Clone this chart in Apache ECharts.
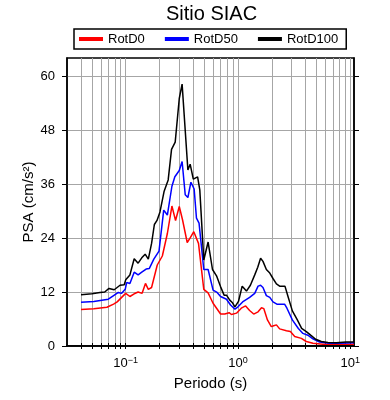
<!DOCTYPE html>
<html>
<head>
<meta charset="utf-8">
<script src="https://cdn.jsdelivr.net/npm/echarts@6/dist/echarts.min.js"></script>
<style>
  html, body { margin: 0; padding: 0; background: #fff; }
  #chart { width: 390px; height: 400px; }
</style>
</head>
<body>
<div id="chart"></div>
<script>
// periods (s) and PSA (cm/s2)
const periodsD0 = [0.04, 0.052, 0.068, 0.078, 0.084, 0.092, 0.1, 0.109, 0.119, 0.129, 0.14, 0.15, 0.159, 0.17, 0.191, 0.212, 0.235, 0.258, 0.278, 0.3, 0.321, 0.353, 0.373, 0.404, 0.445, 0.496, 0.542, 0.6, 0.7, 0.763, 0.834, 0.875, 0.97, 1.07, 1.17, 1.27, 1.38, 1.51, 1.62, 1.7, 1.83, 1.98, 2.08, 2.2, 2.35, 2.7, 2.93, 3.2, 3.67, 4.06, 4.65, 5.7, 8.0, 10.8];
const rotD0 = [8.1, 8.3, 8.6, 9.3, 9.8, 10.8, 11.7, 11.0, 11.6, 12.0, 11.7, 13.9, 12.6, 13.0, 18.0, 20.0, 25.0, 31.1, 27.9, 31.0, 28.0, 23.0, 23.9, 25.4, 22.8, 12.6, 11.8, 9.5, 7.1, 7.1, 7.4, 7.0, 7.3, 8.4, 8.9, 7.9, 7.1, 7.6, 8.5, 8.3, 5.8, 4.3, 4.5, 4.7, 3.8, 3.4, 3.2, 2.1, 1.7, 1.0, 0.6, 0.4, 0.4, 0.4];

const periodsD50 = [0.04, 0.052, 0.07, 0.078, 0.086, 0.092, 0.099, 0.102, 0.109, 0.119, 0.129, 0.139, 0.152, 0.162, 0.178, 0.198, 0.218, 0.235, 0.258, 0.274, 0.3, 0.318, 0.339, 0.358, 0.381, 0.407, 0.427, 0.45, 0.496, 0.542, 0.6, 0.652, 0.7, 0.79, 0.858, 0.94, 1.0, 1.1, 1.27, 1.41, 1.51, 1.59, 1.67, 1.79, 1.92, 2.05, 2.22, 2.6, 2.73, 3.05, 3.45, 3.79, 4.19, 4.65, 5.33, 6.5, 8.0, 10.8];
const rotD50 = [9.7, 9.9, 10.4, 11.2, 11.9, 11.7, 12.6, 14.1, 13.9, 16.4, 15.8, 16.4, 17.1, 17.2, 19.3, 21.1, 30.2, 29.1, 35.5, 37.6, 39.0, 41.0, 33.6, 33.0, 36.4, 34.9, 28.4, 27.3, 17.0, 17.0, 12.4, 11.9, 11.0, 10.4, 9.1, 8.2, 8.7, 9.8, 10.8, 11.7, 13.3, 13.5, 13.0, 11.2, 10.8, 9.8, 9.3, 9.3, 8.4, 5.8, 3.9, 2.8, 2.4, 1.6, 0.9, 0.6, 0.6, 0.7];

const periodsD100 = [0.04, 0.05, 0.059, 0.065, 0.071, 0.079, 0.089, 0.097, 0.1, 0.109, 0.119, 0.129, 0.139, 0.149, 0.159, 0.17, 0.18, 0.19, 0.202, 0.22, 0.239, 0.256, 0.276, 0.3, 0.318, 0.358, 0.375, 0.4, 0.437, 0.457, 0.496, 0.542, 0.593, 0.644, 0.699, 0.752, 0.79, 0.845, 0.894, 0.94, 1.01, 1.09, 1.19, 1.29, 1.41, 1.5, 1.59, 1.67, 1.79, 1.92, 2.05, 2.2, 2.35, 2.62, 2.79, 3.05, 3.36, 3.69, 4.06, 4.44, 4.92, 5.53, 6.33, 7.5, 9.2, 10.8];
const rotD100 = [11.4, 11.6, 11.9, 12, 12.8, 12.5, 13.5, 13.6, 14.7, 15.8, 19.4, 18.4, 19.6, 20.4, 19.3, 22.8, 27.0, 27.9, 29.8, 34.4, 36.9, 43.7, 45.3, 55.0, 58.2, 39.1, 40.4, 37.1, 37.6, 34.7, 19.1, 23.1, 17.0, 15.6, 13.2, 11.3, 11.3, 10.2, 9.6, 8.7, 9.9, 13.3, 12.2, 13.5, 15.8, 17.5, 19.5, 18.8, 17.0, 16.2, 15.0, 13.8, 13.3, 13.3, 11.0, 7.8, 5.9, 3.9, 3.2, 2.4, 1.5, 1.0, 0.8, 0.7, 0.9, 0.9];

const seriesNames = ['RotD0', 'RotD50', 'RotD100'];
const seriesColors = ['#ff0000', '#0000ff', '#000000'];

// log axis ticks: decades get labels, every 1..9 gets a tick + grid line
const xTicks = [0.04, 0.05, 0.06, 0.07, 0.08, 0.09, 0.1, 0.2, 0.3, 0.4, 0.5, 0.6, 0.7, 0.8, 0.9, 1, 2, 3, 4, 5, 6, 7, 8, 9, 10];
const xLabels = [0.1, 1, 10];
const yTicks = [0, 12, 24, 36, 48, 60];

const font = 'Liberation Sans, Arial, Helvetica, sans-serif';

const chartDom = document.getElementById('chart');
const myChart = echarts.init(chartDom, null, { renderer: 'canvas' });

const pairs = (xs, ys) => xs.map((x, i) => [x, ys[i]]);

const expLabel = (v) => {
  const e = Math.round(Math.log10(v));
  return '{b|10}{s|' + (e < 0 ? '\u2212' + (-e) : e) + '}';
};

const option = {
  animation: false,
  textStyle: { fontFamily: font },
  title: {
    text: 'Sitio SIAC',
    left: 166,
    top: 4,
    padding: 0,
    textStyle: { fontFamily: font, fontSize: 20, fontWeight: 'normal', color: '#000' },
  },
  legend: {
    data: seriesNames,
    left: 74,
    top: 29,
    padding: [3.5, 8, 3.5, 5],
    itemGap: 20,
    itemWidth: 24,
    itemHeight: 4,
    itemTextGap: 6,
    icon: 'rect',
    borderColor: '#000',
    borderWidth: 1.5,
    borderRadius: 0,
    textStyle: { fontFamily: font, fontSize: 13, color: '#000' },
  },
  grid: {
    left: 67,
    right: 36,
    top: 58,
    bottom: 54,
    show: true,
    borderColor: '#000',
    borderWidth: 1.5,
  },
  xAxis: [
    {
      type: 'log',
      logBase: 10,
      min: 0.03,
      max: 10.8,
      position: 'bottom',
      name: 'Periodo (s)',
      nameLocation: 'middle',
      nameGap: 30,
      nameMoveOverlap: false,
      nameTextStyle: { fontFamily: font, fontSize: 15, color: '#000' },
      axisLine: { lineStyle: { color: '#000', width: 1.5 } },
      axisTick: { inside: false, length: 3, customValues: xTicks, lineStyle: { color: '#000' } },
      axisLabel: {
        customValues: xLabels,
        margin: 10,
        formatter: expLabel,
        rich: {
          b: { fontFamily: font, fontSize: 13, color: '#000' },
          s: { fontFamily: font, fontSize: 9, color: '#000', verticalAlign: 'top', padding: [0, 0, 6, 0] },
        },
      },
      splitLine: { show: true, lineStyle: { color: '#a6a6a6', width: 1 } },
    },
    {
      type: 'log',
      logBase: 10,
      min: 0.03,
      max: 10.8,
      position: 'top',
      axisLine: { lineStyle: { color: '#000', width: 1.5 } },
      axisTick: { inside: false, length: 3, customValues: xTicks, lineStyle: { color: '#000' } },
      axisLabel: { show: false },
      splitLine: { show: false },
    },
  ],
  yAxis: [
    {
      type: 'value',
      min: 0,
      max: 64,
      position: 'left',
      name: 'PSA (cm/s\u00b2)',
      nameLocation: 'middle',
      nameGap: 31,
      nameMoveOverlap: false,
      nameTextStyle: { fontFamily: font, fontSize: 15, color: '#000' },
      axisLine: { show: true, lineStyle: { color: '#000', width: 1.5 } },
      axisTick: { show: true, inside: false, length: 5, customValues: yTicks, lineStyle: { color: '#000' } },
      axisLabel: { customValues: yTicks, margin: 12, fontFamily: font, fontSize: 13, color: '#000' },
      splitLine: { show: true, lineStyle: { color: '#a6a6a6', width: 1 } },
    },
    {
      type: 'value',
      min: 0,
      max: 64,
      position: 'right',
      axisLine: { show: true, lineStyle: { color: '#000', width: 1.5 } },
      axisTick: { show: true, inside: false, length: 5, customValues: yTicks, lineStyle: { color: '#000' } },
      axisLabel: { show: false },
      splitLine: { show: false },
    },
  ],
  series: [
    { name: 'RotD0', data: pairs(periodsD0, rotD0) },
    { name: 'RotD50', data: pairs(periodsD50, rotD50) },
    { name: 'RotD100', data: pairs(periodsD100, rotD100) },
  ].map((s, i) => ({
    ...s,
    type: 'line',
    xAxisIndex: 0,
    yAxisIndex: 0,
    showSymbol: false,
    symbol: 'none',
    color: seriesColors[i],
    lineStyle: { color: seriesColors[i], width: 1.5 },
    z: 3 + i,
  })),
};

myChart.setOption(option);
</script>
</body>
</html>
